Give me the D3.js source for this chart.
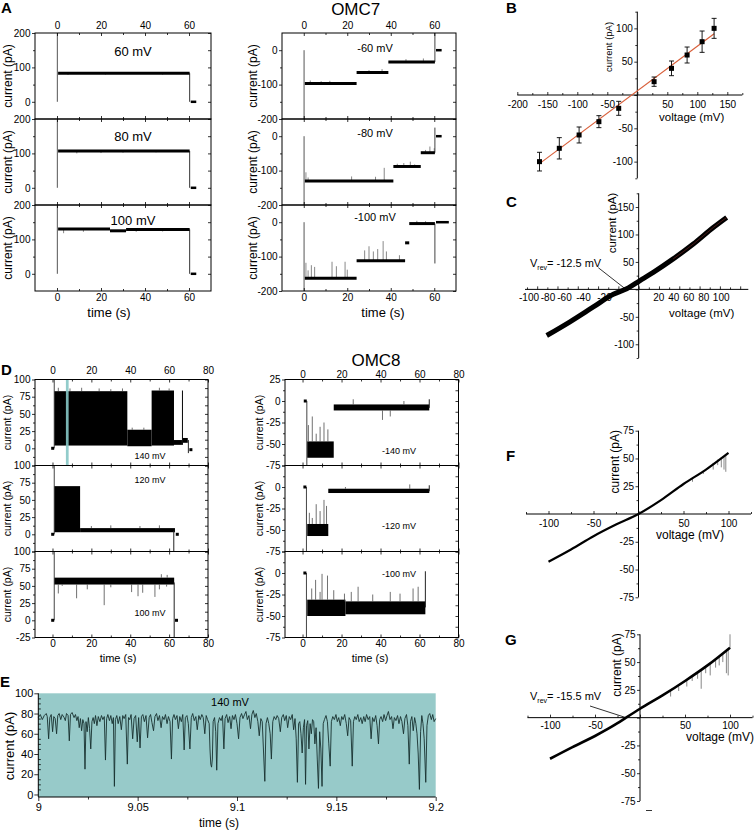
<!DOCTYPE html>
<html><head><meta charset="utf-8">
<script src="https://cdn.jsdelivr.net/npm/d3@7/dist/d3.min.js"></script>
<style>html,body{margin:0;padding:0;background:#fff}</style>
</head><body>
<svg id="fig" width="754" height="831" xmlns="http://www.w3.org/2000/svg"></svg>
<script>
// ======================= DATA =======================
// ---- Panel A (OMC7): current levels [tStart(s), tEnd(s), pA]
const aTimeTicks = [0, 20, 40, 60];
const aTimeMinor = [10, 30, 50];
const aLeftNames = ["60 mV", "80 mV", "100 mV"];
const aLeftLevels = [
  [[0.5, 60.3, 83]],
  [[0.5, 60.3, 107]],
  [[0.5, 24.1, 130], [24.1, 31.4, 125], [31.4, 60.3, 129]]
];
const aLeftTails = [[60.8, 63.3, 0], [60.8, 63.3, 0], [60.8, 63.3, 0]];
const aLeftDrops = [[60.3, 0, 83], [60.3, 0, 107], [60.3, 0, 129]];
const aLeftTransients = [[0.15, 0, 200], [0.15, 0, 200], [0.15, 0, 200]];
const aLeftSpikes = [
  [[5, 83, 78], [22, 83, 79], [48, 83, 79]],
  [[9, 107, 100], [20, 107, 101], [30, 107, 102], [45, 107, 103]],
  [[3, 129, 118], [12, 129, 122], [36, 129, 122], [48, 129, 123]]
];
const aRightNames = ["-60 mV", "-80 mV", "-100 mV"];
const aRightLevels = [
  [[0.5, 24.3, -97], [24.3, 38.9, -65], [38.9, 60.3, -34]],
  [[0.5, 41.2, -130], [41.2, 53.8, -88], [53.8, 60.3, -48]],
  [[0.5, 24.3, -163], [24.3, 46.6, -112], [46.6, 48.5, -60], [48.5, 60.3, -4]]
];
const aRightTails = [[60.8, 63.4, 0], [60.8, 63.4, 0], [60.8, 66.7, 0]];
const aRightDrops = [[60.3, -34, 50], [60.3, -48, 25], [60.3, -120, -4]];
const aRightTransients = [[0.15, 0, -200], [0.15, 0, -200], [0.15, 0, -200]];
const aRightSpikes = [
  [[3, -97, -88], [8, -97, -90], [12, -97, -89], [30, -65, -58], [36, -65, -55], [47, -34, -26], [55, -34, -24]],
  [[1, -130, -105], [2, -130, -120], [22, -130, -117], [33, -130, -118], [37, -130, -92], [43, -88, -80], [46, -88, -78], [49, -88, -74], [51, -88, -82], [56, -48, -40], [58, -48, -30], [60, -48, -35]],
  [[1, -163, -118], [2, -163, -140], [3.5, -163, -125], [5, -163, -130], [13, -163, -115], [15, -163, -128], [19, -163, -115], [20, -163, -138], [28, -112, -82], [30, -112, -70], [32, -112, -85], [34, -112, -78], [36.5, -112, -55], [38, -112, -85], [44, -112, -96], [52, -4, 4], [56, -4, 3]]
];

// ---- Panel D (OMC8): bands [tStart, tEnd, lowpA, highpA]
const dTimeTicks = [0, 20, 40, 60, 80];
const dTimeMinor = [10, 30, 50, 70];
const dLeftNames = ["140 mV", "120 mV", "100 mV"];
const dLeftBands = [
  [[1, 38.5, 4, 83], [38.5, 51, 3, 27], [51, 62.5, 4, 84], [62.5, 66.6, 5, 12], [66.6, 67.1, 5, 84], [67.1, 69.6, 8, 15]],
  [[1, 14.2, 3, 70], [14.2, 63, 3, 9]],
  [[1, 62.6, 52, 62]]
];
const dLeftSpikes = [
  [[3, 83, 88], [9, 83, 87], [15, 83, 88], [24, 83, 87], [30, 83, 86], [36, 83, 87], [55, 84, 88], [60, 84, 87], [41, 27, 30], [47, 27, 30]],
  [[20, 9, 12], [30, 9, 13], [45, 9, 12], [55, 9, 13]],
  [[3, 52, 39], [5, 52, 50], [12.4, 52, 32], [17.9, 52, 45], [26.6, 52, 22], [30, 52, 48], [40.7, 52, 41], [44, 52, 35], [46.4, 52, 40], [52.7, 52, 34], [55, 52, 45], [58.7, 52, 49], [56, 62, 67], [59, 62, 66]]
];
const dLeftTransients = [[0.9, 0, 100], [0.9, 0, 100], [0.9, 0, 100]];
const dLeftDrops = [[69.9, -7, 12], [62.4, -25, 5], [62.6, -25, 55]];
const dLeftDots = [[[0.1, 0], [71.2, -2]], [[0.1, 0], [64.2, 0]], [[0.1, 0], [63.8, 0]]];
const dLeftWindow = [6.9, 8.3];
const dRightNames = ["-140 mV", "-120 mV", "-100 mV"];
const dRightBands = [
  [[2.4, 16, -66, -47], [16, 65, -11, -4]],
  [[2.4, 13.2, -57, -43], [13.2, 65, -7, -2]],
  [[2.4, 22, -50, -31], [22, 63, -48, -33]]
];
const dRightSpikes = [
  [[3, -47, -28], [5, -47, -18], [7, -47, -38], [9, -47, -30], [11, -47, -25], [13, -47, -33], [26, -4, 2], [41, -11, -22], [45, -11, -18], [52, -4, 0]],
  [[3.5, -43, -30], [5, -43, -36], [7, -43, -20], [9, -43, -28], [11, -43, -15], [12.3, -43, -22], [22, -2, 0], [55, -2, 3]],
  [[4.7, -31, -18], [6.7, -31, -8], [9, -31, -22], [10, -31, -1], [12.8, -31, -3], [16, -31, -20], [21.5, -33, -24], [25, -33, -22], [28.5, -33, -16], [36, -33, -25], [45, -33, -22], [50, -33, -24], [56.7, -33, -18], [59.3, -33, -16]]
];
const dRightTransients = [[2.2, 0, -75], [2.0, 0, -75], [2.0, 0, -75]];
const dRightDots = [[[1.4, 0]], [[1.2, 0]], [[1.2, 0]]];
const dRightEnds = [[65, -8, 2], [65, -5, 2], [63, -40, 2]];

// ---- Panel E: trace at 140 mV, [ms after 9 s, pA]
const eTrace = [[0,76],[1,79],[2,74],[3,78],[4,80],[4.5,77],[5.2,55],[5.8,76],[6.5,79],[7.2,62],[7.8,77],[8.5,75],[9.2,60],[9.8,78],[10.5,80],[11.3,74],[12,79],[13,76],[13.6,73],[14.2,80],[15,78],[15.6,53],[16.2,79],[17,81],[18,76],[18.7,79],[19.4,73],[20,77],[20.6,66],[21.2,75],[21.8,63],[22.4,74],[23,70],[23.5,25],[24,72],[24.6,62],[25.2,76],[25.8,65],[26.4,45],[27,72],[27.6,76],[28.2,70],[28.8,78],[29.5,68],[30.2,77],[31,72],[31.8,78],[32.5,74],[33.2,77],[33.8,34],[34.4,75],[35,79],[35.8,73],[36.5,78],[37.2,70],[37.8,76],[38.3,8],[38.8,74],[39.5,78],[40.2,70],[41,77],[41.8,64],[42.5,78],[43.2,75],[44,79],[44.8,30],[45.4,76],[46,74],[46.7,79],[47.5,55],[48.2,75],[49,78],[49.8,52],[50.5,76],[51.2,46],[51.9,77],[52.6,79],[53.4,72],[54.2,78],[55,56],[55.8,76],[56.5,79],[57.2,71],[58,63],[58.7,77],[59.5,80],[60.2,73],[61,78],[61.8,66],[62.5,77],[63.3,74],[64,79],[64.8,70],[65.5,77],[66.3,72],[67,35],[67.6,75],[68.3,79],[69,74],[69.8,78],[70.5,65],[71.2,77],[72,72],[72.7,79],[73.4,44],[74,76],[74.8,78],[75.5,70],[76.3,45],[77,76],[77.7,80],[78.5,73],[79.3,77],[80,64],[80.8,78],[81.5,74],[82.3,79],[83,76],[83.8,60],[84.5,78],[85.2,74],[86,70],[86.4,45],[86.8,30],[87.2,27],[87.6,35],[88,72],[88.7,76],[89.3,62],[89.8,24],[90.4,70],[91.2,76],[92,73],[92.7,78],[93.4,45],[94,75],[94.8,79],[95.5,71],[96.3,77],[97,65],[97.7,78],[98.5,74],[99.2,79],[100,70],[100.8,55],[101.5,76],[102.3,80],[103,75],[103.8,79],[104.5,82],[105.2,74],[106,78],[106.8,65],[107.5,79],[108.2,83],[109,76],[109.7,80],[110.5,72],[111.2,58],[112,75],[112.7,72],[113.4,40],[114,13],[114.6,70],[115.3,76],[116,70],[116.7,60],[117.3,35],[118,72],[118.7,77],[119.5,74],[120.2,78],[121,75],[121.8,62],[122.5,76],[123.3,79],[124,73],[124.8,78],[125.5,66],[126.3,77],[127,74],[127.8,79],[128.5,64],[129.2,75],[129.8,55],[130.4,12],[131,70],[131.6,72],[132.2,60],[132.8,41],[133.4,66],[134,74],[134.5,10],[135,68],[135.6,73],[136.2,45],[136.8,70],[137.4,60],[138,74],[138.6,72],[139.2,50],[139.8,66],[140.4,35],[141,6],[141.6,62],[142.2,45],[142.8,8],[143.4,70],[144,74],[144.8,78],[145.5,72],[146.2,50],[146.9,28],[147.5,72],[148.2,77],[149,74],[149.8,79],[150.5,72],[151.2,76],[152,68],[152.7,77],[153.4,74],[154.2,79],[155,70],[155.7,58],[156.4,76],[157.2,73],[158,28],[158.6,72],[159.3,77],[160,74],[160.8,79],[161.5,72],[162.3,76],[163,70],[163.8,77],[164.5,72],[165.2,79],[166,74],[166.8,77],[167.5,55],[168.2,76],[169,72],[169.8,78],[170.5,68],[171.2,50],[171.8,74],[172.5,77],[173.3,72],[174,79],[174.8,73],[175.5,78],[176.2,82],[177,74],[177.8,77],[178.5,65],[179.2,76],[180,73],[180.8,78],[181.5,70],[182.3,77],[183,72],[183.8,60],[184.5,75],[185.3,79],[186,68],[186.7,30],[187.3,72],[188,77],[188.7,63],[189.4,76],[190,70],[190.6,60],[191.2,40],[191.8,5],[192.4,62],[193,78],[193.6,70],[194.2,55],[195,12],[195.6,68],[196.3,78],[197,80],[197.8,74],[198.5,79],[199.2,72],[200,75]];
const eTicks = [9, 9.05, 9.1, 9.15, 9.2];
const eMinor = [9.025, 9.075, 9.125, 9.175];

// ---- Panel B: I–V mean ± error, linear fit
const bVoltage = [-163, -130, -97, -64, -31, 28, 57, 83, 108, 128];
const bCurrent = [-100, -80, -60, -40, -20, 20, 40, 60, 80, 100];
const bError = [14, 16, 12, 9, 10.5, 7, 11, 12, 16, 15];
const bFit = [[-163, -103], [128, 92]];

// ---- Panel C: ramp I–V (OMC7)
const cVoltage = [-90.6, -67.7, -44.7, -25, -11.8, 1.3, 14.4, 34, 53.8, 73.5, 86.7];
const cCurrent = [-84, -59, -32, -9, 1, 16, 31, 55.5, 82.6, 112.7, 131];
const cTickLabels = [-100, -80, -60, -40, -20, 20, 40, 60, 80, 100];

// ---- Panel F: ramp I–V (OMC8)
const fVoltage = [-100, -75, -50, -25, 0, 25, 50, 75, 100];
const fCurrent = [-43, -32, -20, -9.5, 0, 12.5, 27, 40, 55];
const fSpikes = [[60, 33, 29], [72, 39, 36], [83, 46, 40], [88, 49, 44], [92, 51, 42], [95, 52, 40], [97, 53, 38]];

// ---- Panel G: ramp I–V (OMC8)
const gVoltage = [-100, -75, -50, -25, -15.5, 0, 25, 50, 75, 100];
const gCurrent = [-37, -26.5, -16.5, -5, 0, 8, 20, 33, 47, 63];
const gSpikes = [[34, 24, 19], [43, 28, 24], [52, 34, 28], [58, 37, 33], [64, 40, 35], [68, 42, 26], [73, 45, 40], [78, 48, 38], [84, 52, 45], [88, 55, 47], [92, 57, 50], [96, 60, 40], [98, 61, 38], [100, 62, 75]];

// ======================= DRAWING =======================
const svg = d3.select("#fig");
const FONT = "'Liberation Sans', Arial, Helvetica, sans-serif";
svg.attr("font-family", FONT);
svg.append("rect").attr("width", 754).attr("height", 831).attr("fill", "#fff");
const fmt = d => String(d);

function axisG(scale, orient, pos, values, size, labeled, fs, pad) {
  const gen = ({left: d3.axisLeft, right: d3.axisRight, top: d3.axisTop, bottom: d3.axisBottom})[orient](scale)
    .tickValues(values).tickSize(size).tickPadding(pad == null ? 2 : pad)
    .tickFormat(labeled ? (typeof labeled === "function" ? labeled : fmt) : () => "");
  const g = svg.append("g")
    .attr("transform", (orient === "left" || orient === "right") ? `translate(${pos},0)` : `translate(0,${pos})`)
    .call(gen);
  g.select(".domain").remove();
  g.attr("font-family", FONT).attr("font-size", fs || 10);
  g.selectAll("line").attr("stroke", "#000").attr("stroke-width", 0.8);
  g.selectAll("text").attr("fill", "#000");
  return g;
}

function txt(x, y, s, fs, opt) {
  opt = opt || {};
  const t = svg.append("text").attr("x", x).attr("y", y).attr("font-size", fs)
    .attr("text-anchor", opt.anchor || "middle").attr("fill", "#000").text(s);
  if (opt.bold) t.attr("font-weight", "bold");
  if (opt.rot) t.attr("transform", `rotate(-90,${x},${y})`);
  return t;
}

function traceBox(x, y, o) {
  const [x0, x1] = x.range(); const y1 = y.range()[0], y0 = y.range()[1];
  svg.append("rect").attr("x", x0).attr("y", y0).attr("width", x1 - x0).attr("height", y1 - y0)
    .attr("fill", "none").attr("stroke", "#000").attr("stroke-width", 1);
  axisG(y, "left", x0, o.yMajor, 3, o.yLabels, 10, 1.5);
  axisG(y, "left", x0, o.yMinor, 2, false);
  axisG(y, "left", x1, o.yMajor.concat(o.yMinor), 3, false);
  axisG(x, "bottom", y0, o.xMajor, 3, false);
  axisG(x, "bottom", y0, o.xMinor, 2, false);
  axisG(x, "top", y1, o.xMajor, 3, false);
  axisG(x, "top", y1, o.xMinor, 2, false);
  if (o.topLabels) axisG(x, "top", y0, o.xMajor, 0, true, 10, o.topPad);
  if (o.bottomLabels) axisG(x, "bottom", y1, o.xMajor, 0, true, 10, o.botPad);
}

function hLines(x, y, arr, w, color) {
  svg.append("g").selectAll("line").data(arr).join("line")
    .attr("x1", d => x(d[0])).attr("x2", d => x(d[1]))
    .attr("y1", d => y(d[2])).attr("y2", d => y(d[2]))
    .attr("stroke", color || "#000").attr("stroke-width", w);
}
function vLines(x, y, arr, w, color) {
  svg.append("g").selectAll("line").data(arr).join("line")
    .attr("x1", d => x(d[0])).attr("x2", d => x(d[0]))
    .attr("y1", d => y(d[1])).attr("y2", d => y(d[2]))
    .attr("stroke", color || "#000").attr("stroke-width", w);
}
function bands(x, y, arr) {
  svg.append("g").selectAll("rect").data(arr).join("rect")
    .attr("x", d => x(d[0])).attr("width", d => Math.max(0.8, x(d[1]) - x(d[0])))
    .attr("y", d => y(d[3])).attr("height", d => y(d[2]) - y(d[3]))
    .attr("fill", "#000");
}
function dots(x, y, arr) {
  svg.append("g").selectAll("rect").data(arr).join("rect")
    .attr("x", d => x(d[0]) - 1.5).attr("y", d => y(d[1]) - 1.5).attr("width", 3).attr("height", 3).attr("fill", "#000");
}

// ---------- Panel A ----------
const aTops = [33, 119, 205], aH = 86;
const aLx = d3.scaleLinear().domain([-10, 70]).range([35, 211]);
const aRx = d3.scaleLinear().domain([-10, 70]).range([282, 456]);
aLeftNames.forEach((name, i) => {
  const y = d3.scaleLinear().domain([-50, 200]).range([aTops[i] + aH, aTops[i]]);
  vLines(aLx, y, [aLeftTransients[i]], 1, "#555");
  vLines(aLx, y, aLeftSpikes[i], 0.7, "#555");
  vLines(aLx, y, [aLeftDrops[i]], 1, "#333");
  hLines(aLx, y, aLeftLevels[i], 3);
  hLines(aLx, y, [aLeftTails[i]], 2.5);
  traceBox(aLx, y, {yMajor: [0, 100, 200], yMinor: [50, 150], yLabels: true,
    xMajor: aTimeTicks, xMinor: aTimeMinor, topLabels: i === 0, topPad: 4, bottomLabels: i === 2, botPad: 3});
  txt(133, [55.5, 140.5, 224.5][i], name, 13);
  txt(12, aTops[i] + aH / 2, "current (pA)", 12, {rot: true});
});
aRightNames.forEach((name, i) => {
  const y = d3.scaleLinear().domain([-200, 50]).range([aTops[i] + aH, aTops[i]]);
  vLines(aRx, y, [aRightTransients[i]], 1, "#555");
  vLines(aRx, y, aRightSpikes[i], 0.7, "#555");
  vLines(aRx, y, [aRightDrops[i]], 1, "#444");
  hLines(aRx, y, aRightLevels[i], 3);
  hLines(aRx, y, [aRightTails[i]], 2.5);
  traceBox(aRx, y, {yMajor: [-200, -100, 0], yMinor: [-150, -50], yLabels: true,
    xMajor: aTimeTicks, xMinor: aTimeMinor, topLabels: i === 0, topPad: 4, bottomLabels: i === 2, botPad: 3});
  txt(375, [51.5, 137, 220.5][i], name, 11);
  txt(257, aTops[i] + aH / 2, "current (pA)", 12, {rot: true});
});
txt(109, 317, "time (s)", 13);
txt(383, 317, "time (s)", 13);
txt(355.7, 15, "OMC7", 17);

// ---------- Panel D ----------
const dTops = [379.5, 465.5, 551.5], dH = 86;
const dLx = d3.scaleLinear().domain([-9, 80]).range([35, 208]);
const dRx = d3.scaleLinear().domain([-9, 80]).range([285, 458.5]);
dLeftNames.forEach((name, i) => {
  const y = d3.scaleLinear().domain([-25, 100]).range([dTops[i] + dH, dTops[i]]);
  vLines(dLx, y, [dLeftTransients[i]], 1, "#444");
  bands(dLx, y, dLeftBands[i]);
  vLines(dLx, y, dLeftSpikes[i], 0.7, "#333");
  vLines(dLx, y, [dLeftDrops[i]], 1, "#222");
  dots(dLx, y, dLeftDots[i]);
  if (i === 0) {
    svg.append("rect").attr("x", dLx(dLeftWindow[0])).attr("width", dLx(dLeftWindow[1]) - dLx(dLeftWindow[0]))
      .attr("y", y(100)).attr("height", y(-25) - y(100)).attr("fill", "#86c6c5").attr("opacity", 0.9);
  }
  traceBox(dLx, y, {yMajor: [-25, 0, 25, 50, 75, 100], yMinor: [-12.5, 12.5, 37.5, 62.5, 87.5],
    yLabels: d => (d === -25 && i < 2) ? "" : String(d),
    xMajor: dTimeTicks, xMinor: dTimeMinor, topLabels: i === 0, topPad: 6, bottomLabels: i === 2, botPad: 2.5});
  txt(150, [459, 482.5, 615.5][i], name, 9);
  txt(11, dTops[i] + dH / 2, "current (pA)", 10.5, {rot: true});
});
dRightNames.forEach((name, i) => {
  const y = d3.scaleLinear().domain([-75, 25]).range([dTops[i] + dH, dTops[i]]);
  vLines(dRx, y, [dRightTransients[i]], 1, "#444");
  bands(dRx, y, dRightBands[i]);
  vLines(dRx, y, dRightSpikes[i], 0.7, "#333");
  vLines(dRx, y, [dRightEnds[i]], 1, "#222");
  dots(dRx, y, dRightDots[i]);
  traceBox(dRx, y, {yMajor: [-75, -50, -25, 0, 25], yMinor: [-62.5, -37.5, -12.5, 12.5],
    yLabels: d => (d === 25 && i > 0) ? "" : String(d),
    xMajor: dTimeTicks, xMinor: dTimeMinor, topLabels: i === 0, topPad: 2, bottomLabels: i === 2, botPad: 2.5});
  txt(399, [454, 529, 577][i], name, 9);
  txt(262.5, dTops[i] + dH / 2, "current (pA)", 10.5, {rot: true});
});
txt(118, 662, "time (s)", 11);
txt(370, 662, "time (s)", 11);
txt(376, 366, "OMC8", 17);

// ---------- Panel E ----------
const eX = d3.scaleLinear().domain([9, 9.2]).range([38.3, 435.7]);
const eY = d3.scaleLinear().domain([-2.5, 100]).range([797, 693.3]);
svg.append("rect").attr("x", eX(9)).attr("y", eY(100)).attr("width", eX(9.2) - eX(9)).attr("height", eY(-2.5) - eY(100)).attr("fill", "#97cac9");
svg.append("path").datum(eTrace)
  .attr("d", d3.line().x(d => eX(9 + d[0] / 1000)).y(d => eY(d[1])))
  .attr("fill", "none").attr("stroke", "#17302f").attr("stroke-width", 0.9);
svg.append("line").attr("x1", eX(9)).attr("x2", eX(9)).attr("y1", eY(100)).attr("y2", eY(-2.5)).attr("stroke", "#000");
svg.append("line").attr("x1", eX(9)).attr("x2", eX(9.2)).attr("y1", eY(-2.5)).attr("y2", eY(-2.5)).attr("stroke", "#000");
axisG(eY, "left", eX(9), [0, 20, 40, 60, 80, 100], 4, true, 11, 1);
axisG(eY, "right", eX(9), [5, 10, 15, 25, 30, 35, 45, 50, 55, 65, 70, 75, 85, 90, 95], 2.5, false);
axisG(eX, "bottom", eY(-2.5), eTicks, 4, true, 11, 1.8);
axisG(eX, "bottom", eY(-2.5), eMinor, 2.5, false);
txt(230, 706, "140 mV", 11);
txt(219, 827, "time (s)", 12);
txt(13.5, 746, "current (pA)", 13, {rot: true});

// ---------- origin-crossing axes ----------
function originAxes(x, y, o) {
  const [x0, x1] = x.range(); const [yb, yt] = y.range();
  svg.append("line").attr("x1", x0).attr("x2", x1).attr("y1", y(0)).attr("y2", y(0)).attr("stroke", "#000");
  svg.append("line").attr("x1", x(0)).attr("x2", x(0)).attr("y1", yb).attr("y2", yt).attr("stroke", "#000");
  axisG(x, "top", y(0), o.xMajor, 3, false);
  axisG(x, "top", y(0), o.xMinor, 2, false);
  axisG(o.labelScale || x, "bottom", y(0), o.xLabels || o.xMajor, 0, d => d === 0 ? "" : String(d), 10, o.xPad);
  axisG(y, "left", x(0), o.yMajor, 3, d => d === 0 ? "" : String(d), 10, 1.5);
  axisG(y, "left", x(0), o.yMinor, 2, false);
}

// ---------- Panel B ----------
const bX = d3.scaleLinear().domain([-200, 175]).range([517.3, 742.3]);
const bY = d3.scaleLinear().domain([-125, 125]).range([178.3, 11.7]);
originAxes(bX, bY, {xMajor: [-200, -150, -100, -50, 0, 50, 100, 150], xMinor: [-175, -125, -75, -25, 25, 75, 125, 175],
  yMajor: [-100, -50, 0, 50, 100], yMinor: [-125, -75, -25, 25, 75, 125], xPad: 5.5});
svg.append("path").datum(bFit).attr("d", d3.line().x(d => bX(d[0])).y(d => bY(d[1])))
  .attr("stroke", "#d9603b").attr("stroke-width", 1.2).attr("fill", "none");
const bPts = bVoltage.map((v, i) => ({v, c: bCurrent[i], e: bError[i]}));
const bg = svg.append("g");
bg.selectAll(".eb").data(bPts).join("line").attr("x1", d => bX(d.v)).attr("x2", d => bX(d.v))
  .attr("y1", d => bY(d.c - d.e)).attr("y2", d => bY(d.c + d.e)).attr("stroke", "#000").attr("stroke-width", 0.9);
bg.selectAll(".cap1").data(bPts).join("line").attr("x1", d => bX(d.v) - 2.5).attr("x2", d => bX(d.v) + 2.5)
  .attr("y1", d => bY(d.c - d.e)).attr("y2", d => bY(d.c - d.e)).attr("stroke", "#000").attr("stroke-width", 0.9);
bg.selectAll(".cap2").data(bPts).join("line").attr("x1", d => bX(d.v) - 2.5).attr("x2", d => bX(d.v) + 2.5)
  .attr("y1", d => bY(d.c + d.e)).attr("y2", d => bY(d.c + d.e)).attr("stroke", "#000").attr("stroke-width", 0.9);
bg.selectAll(".pt").data(bPts).join("rect").attr("x", d => bX(d.v) - 2.5).attr("y", d => bY(d.c) - 2.5)
  .attr("width", 5).attr("height", 5).attr("fill", "#000");
txt(612, 47, "current (pA)", 9.5, {rot: true});
txt(691.7, 121, "voltage (mV)", 11.5);

// ---------- Panel C ----------
const cX = d3.scaleLinear().domain([-112, 108]).range([525, 748.3]);
const cY = d3.scaleLinear().domain([-125, 175]).range([358, 193.3]);
// tick-label placement as printed in the original (labels are compressed toward the origin)
const cLabelX = d3.scaleLinear().domain(cTickLabels).range([528.5, 547.5, 564, 583, 604, 658.3, 673.3, 688.3, 703.3, 720.7]);
originAxes(cX, cY, {xMajor: [-100, -80, -60, -40, -20, 0, 20, 40, 60, 80, 100], xMinor: [-110, -90, -70, -50, -30, -10, 10, 30, 50, 70, 90],
  yMajor: [-100, -50, 0, 50, 100, 150], yMinor: [-125, -75, -25, 25, 75, 125, 175], xPad: 5,
  labelScale: cLabelX, xLabels: cTickLabels});
const cPts = cVoltage.map((v, i) => [v, cCurrent[i]]);
svg.append("path").datum(cPts).attr("d", d3.line().curve(d3.curveMonotoneX).x(d => cX(d[0])).y(d => cY(d[1])))
  .attr("fill", "none").attr("stroke", "#000").attr("stroke-width", 5);
svg.append("path").datum(cPts.filter(d => d[0] > 30)).attr("d", d3.line().curve(d3.curveMonotoneX).x(d => cX(d[0])).y(d => cY(d[1])))
  .attr("fill", "none").attr("stroke", "#7a2a24").attr("stroke-width", 1).attr("opacity", 0.6);
const vC = svg.append("text").attr("x", 530).attr("y", 266.7).attr("font-size", 11).attr("fill", "#000");
vC.append("tspan").text("V");
vC.append("tspan").attr("font-size", 7).attr("dy", 3).text("rev");
vC.append("tspan").attr("dy", -3).text("= -12.5 mV");
svg.append("line").attr("x1", 598.3).attr("y1", 267.7).attr("x2", cX(-12.5)).attr("y2", cY(0)).attr("stroke", "#000").attr("stroke-width", 0.8);
txt(616, 223, "current (pA)", 11.5, {rot: true});
txt(701.7, 317, "voltage (mV)", 11.5);

// ---------- Panel F ----------
const fX = d3.scaleLinear().domain([-125, 125]).range([526, 751]);
const fY = d3.scaleLinear().domain([-75, 75]).range([597.3, 430.7]);
originAxes(fX, fY, {xMajor: [-100, -50, 0, 50, 100], xMinor: [-125, -75, -25, 25, 75, 125],
  yMajor: [-75, -50, -25, 0, 25, 50, 75], yMinor: [-62.5, -37.5, -12.5, 12.5, 37.5, 62.5], xPad: 5.6});
vLines(fX, fY, fSpikes, 0.7, "#555");
svg.append("path").datum(fVoltage.map((v, i) => [v, fCurrent[i]]))
  .attr("d", d3.line().curve(d3.curveMonotoneX).x(d => fX(d[0])).y(d => fY(d[1])))
  .attr("fill", "none").attr("stroke", "#000").attr("stroke-width", 2.2);
txt(619, 461.7, "current (pA)", 12, {rot: true});
txt(690, 539, "voltage (mV)", 12);

// ---------- Panel G ----------
const gX = d3.scaleLinear().domain([-125, 125]).range([527.5, 752.5]);
const gY = d3.scaleLinear().domain([-75, 75]).range([801, 634.3]);
originAxes(gX, gY, {xMajor: [-100, -50, 0, 50, 100], xMinor: [-125, -75, -25, 25, 75, 125],
  yMajor: [-75, -50, -25, 0, 25, 50, 75], yMinor: [-62.5, -37.5, -12.5, 12.5, 37.5, 62.5], xPad: 4.3});
vLines(gX, gY, gSpikes, 0.7, "#555");
svg.append("path").datum(gVoltage.map((v, i) => [v, gCurrent[i]]))
  .attr("d", d3.line().curve(d3.curveMonotoneX).x(d => gX(d[0])).y(d => gY(d[1])))
  .attr("fill", "none").attr("stroke", "#000").attr("stroke-width", 2.6);
const vG = svg.append("text").attr("x", 530).attr("y", 700).attr("font-size", 11).attr("fill", "#000");
vG.append("tspan").text("V");
vG.append("tspan").attr("font-size", 7).attr("dy", 3).text("rev");
vG.append("tspan").attr("dy", -3).text("= -15.5 mV");
svg.append("line").attr("x1", 590).attr("y1", 706).attr("x2", gX(-15.5)).attr("y2", gY(0)).attr("stroke", "#000").attr("stroke-width", 0.8);
txt(621, 665, "current (pA)", 12, {rot: true});
txt(720, 741, "voltage (mV)", 12);
svg.append("line").attr("x1", 646).attr("x2", 652).attr("y1", 810.5).attr("y2", 810.5).attr("stroke", "#000").attr("stroke-width", 0.8);

// ---------- panel letters ----------
[["A", 1, 13], ["B", 506, 13], ["C", 506, 206.5], ["D", 1, 375], ["E", 0, 686.5], ["F", 506, 461], ["G", 505, 645]]
  .forEach(([s, x, y]) => txt(x, y, s, 15, {bold: true, anchor: "start"}));
</script>
</body></html>
